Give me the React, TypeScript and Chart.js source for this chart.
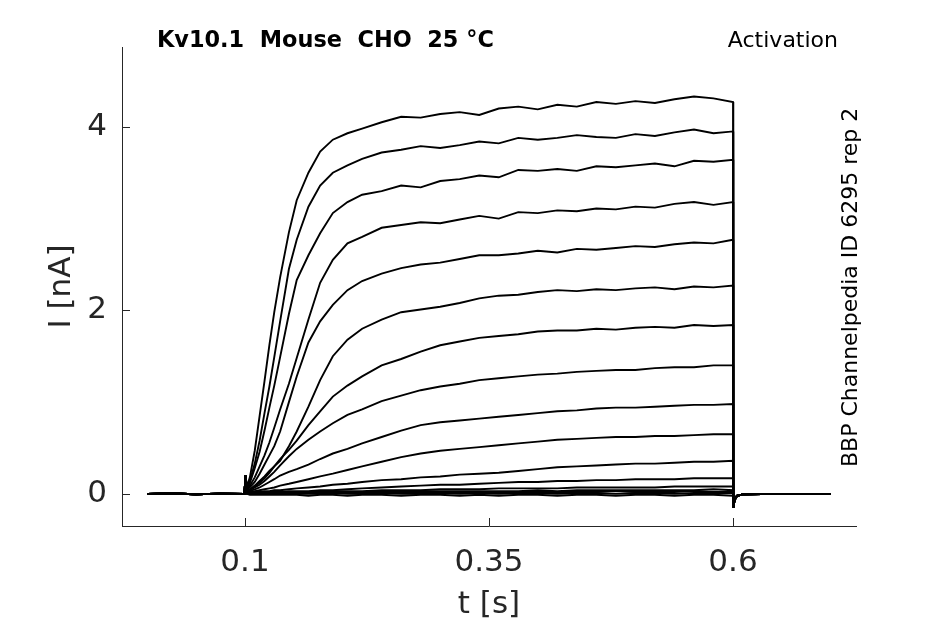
import { useEffect, useRef } from 'react'
import Chart from 'chart.js/auto'

// time axis (s) and current (nA)
const xMin = -0.026
const xMax = 0.726
const yMin = -0.35
const yMax = 4.87
const xTicks = [0.1, 0.35, 0.6]
const xTickLabels = ['0.1', '0.35', '0.6']
const yTicks = [0, 2, 4]
const yTickLabels = ['0', '2', '4']

// holding period before the step
const preT = [0, 0.025, 0.05, 0.075, 0.0995]
const preI = [0, 0.004, -0.004, 0.003, 0]

// sample times during the depolarising step
const pulseT = [
  0.1, 0.1005, 0.102, 0.105, 0.11, 0.115, 0.12, 0.125, 0.13, 0.136,
  0.145, 0.153, 0.165, 0.177, 0.19, 0.205, 0.22, 0.24, 0.26, 0.28,
  0.3, 0.32, 0.34, 0.36, 0.38, 0.4, 0.42, 0.44, 0.46, 0.48,
  0.5, 0.52, 0.54, 0.56, 0.58, 0.6,
]

// after the step (tail)
const tailT = [0.6003, 0.6015, 0.604, 0.61, 0.65, 0.7]
const tailI = [-0.15, -0.07, -0.02, -0.005, 0, 0]

const trace1 = [0, 0.2, 0.08, 0.18, 0.47, 0.85, 1.23, 1.62, 1.98, 2.36, 2.85, 3.2, 3.5, 3.73, 3.86, 3.93, 3.98, 4.05, 4.11, 4.1, 4.14, 4.16, 4.13, 4.2, 4.22, 4.19, 4.24, 4.22, 4.27, 4.25, 4.28, 4.26, 4.3, 4.33, 4.31, 4.27]
const trace2 = [0, 0.2, 0.07, 0.14, 0.33, 0.58, 0.88, 1.17, 1.49, 1.88, 2.45, 2.77, 3.13, 3.36, 3.5, 3.58, 3.65, 3.72, 3.75, 3.79, 3.77, 3.8, 3.84, 3.82, 3.88, 3.86, 3.88, 3.91, 3.89, 3.88, 3.92, 3.9, 3.94, 3.97, 3.93, 3.95]
const trace3 = [0, 0.2, 0.06, 0.12, 0.28, 0.46, 0.69, 0.94, 1.18, 1.49, 1.96, 2.33, 2.6, 2.84, 3.06, 3.18, 3.26, 3.3, 3.36, 3.34, 3.41, 3.43, 3.47, 3.45, 3.53, 3.52, 3.54, 3.52, 3.57, 3.56, 3.58, 3.6, 3.57, 3.63, 3.62, 3.64]
const trace4 = [0, 0.2, 0.05, 0.09, 0.18, 0.3, 0.42, 0.56, 0.72, 0.92, 1.2, 1.48, 1.9, 2.3, 2.55, 2.73, 2.8, 2.9, 2.93, 2.96, 2.95, 2.99, 3.03, 3.0, 3.07, 3.06, 3.09, 3.08, 3.11, 3.1, 3.13, 3.12, 3.16, 3.18, 3.15, 3.18]
const trace5 = [0, 0.2, 0.04, 0.07, 0.13, 0.22, 0.32, 0.42, 0.52, 0.68, 1.0, 1.28, 1.65, 1.88, 2.06, 2.22, 2.32, 2.4, 2.46, 2.5, 2.52, 2.56, 2.6, 2.6, 2.62, 2.65, 2.63, 2.67, 2.66, 2.68, 2.7, 2.69, 2.72, 2.74, 2.73, 2.77]
const trace6 = [0, 0.2, 0.03, 0.05, 0.09, 0.14, 0.19, 0.25, 0.3, 0.36, 0.52, 0.68, 0.95, 1.24, 1.5, 1.68, 1.8, 1.9, 1.98, 2.01, 2.04, 2.08, 2.13, 2.16, 2.17, 2.2, 2.22, 2.21, 2.23, 2.22, 2.24, 2.25, 2.23, 2.26, 2.25, 2.27]
const trace7 = [0, 0.2, 0.03, 0.04, 0.08, 0.12, 0.17, 0.23, 0.3, 0.38, 0.48, 0.58, 0.75, 0.9, 1.06, 1.18, 1.28, 1.4, 1.47, 1.55, 1.62, 1.66, 1.7, 1.72, 1.74, 1.77, 1.78, 1.78, 1.8, 1.79, 1.81, 1.82, 1.81, 1.84, 1.83, 1.84]
const trace8 = [0, 0.2, 0.03, 0.04, 0.07, 0.1, 0.14, 0.19, 0.24, 0.31, 0.41, 0.49, 0.59, 0.68, 0.77, 0.86, 0.92, 1.01, 1.07, 1.13, 1.17, 1.2, 1.24, 1.26, 1.28, 1.3, 1.31, 1.33, 1.34, 1.35, 1.35, 1.37, 1.38, 1.38, 1.4, 1.4]
const trace9 = [0, 0.2, 0.02, 0.03, 0.05, 0.07, 0.1, 0.13, 0.16, 0.2, 0.24, 0.27, 0.32, 0.38, 0.44, 0.49, 0.55, 0.62, 0.69, 0.75, 0.78, 0.8, 0.82, 0.84, 0.86, 0.88, 0.9, 0.91, 0.93, 0.94, 0.94, 0.95, 0.96, 0.97, 0.97, 0.98]
const trace10 = [0, 0.2, 0.02, 0.02, 0.03, 0.04, 0.05, 0.06, 0.07, 0.09, 0.11, 0.13, 0.16, 0.19, 0.22, 0.26, 0.3, 0.35, 0.4, 0.44, 0.47, 0.49, 0.51, 0.53, 0.55, 0.57, 0.59, 0.6, 0.61, 0.62, 0.62, 0.63, 0.63, 0.64, 0.65, 0.65]
const trace11 = [0, 0.2, 0.01, 0.01, 0.02, 0.02, 0.03, 0.03, 0.04, 0.04, 0.05, 0.06, 0.07, 0.08, 0.1, 0.11, 0.13, 0.15, 0.16, 0.18, 0.19, 0.21, 0.22, 0.23, 0.25, 0.27, 0.29, 0.3, 0.31, 0.32, 0.33, 0.33, 0.34, 0.35, 0.35, 0.36]
const trace12 = [0, 0.2, 0.01, 0.01, 0.01, 0.01, 0.02, 0.02, 0.02, 0.02, 0.03, 0.03, 0.03, 0.04, 0.04, 0.05, 0.06, 0.07, 0.08, 0.09, 0.1, 0.1, 0.11, 0.12, 0.13, 0.13, 0.14, 0.14, 0.15, 0.15, 0.16, 0.16, 0.16, 0.17, 0.17, 0.17]
const trace13 = [0, 0.2, 0.01, 0.01, 0.01, 0.01, 0.01, 0.01, 0.01, 0.02, 0.02, 0.02, 0.02, 0.03, 0.03, 0.03, 0.03, 0.04, 0.04, 0.04, 0.05, 0.05, 0.05, 0.06, 0.06, 0.06, 0.06, 0.07, 0.07, 0.07, 0.07, 0.07, 0.08, 0.08, 0.08, 0.08]
const trace14 = [0, 0.2, 0.01, 0, 0, 0.01, 0.01, 0.01, 0.01, 0.01, 0.01, 0.01, 0.02, 0.02, 0.02, 0.02, 0.02, 0.02, 0.03, 0.03, 0.03, 0.03, 0.03, 0.03, 0.03, 0.04, 0.03, 0.04, 0.04, 0.04, 0.04, 0.04, 0.04, 0.04, 0.05, 0.04]
const trace15 = [0, 0.2, 0, 0, 0, 0, 0, 0.01, 0, 0.01, 0.01, 0.01, 0.01, 0.01, 0.01, 0.01, 0.01, 0.01, 0.02, 0.01, 0.02, 0.02, 0.02, 0.02, 0.02, 0.02, 0.02, 0.02, 0.02, 0.03, 0.02, 0.02, 0.02, 0.03, 0.02, 0.02]
const trace16 = [0, 0.2, 0, 0, 0, 0, 0, 0, 0, 0, 0, 0, 0, 0, 0.01, 0, 0, 0.01, 0, 0, 0.01, 0, 0.01, 0, 0.01, 0.01, 0, 0.01, 0.01, 0, 0.01, 0.01, 0, 0.01, 0.01, 0.01]
const trace17 = [0, 0.2, 0, -0.01, -0.01, -0.01, -0.01, -0.01, -0.01, -0.01, -0.01, -0.01, -0.02, -0.01, -0.01, -0.02, -0.01, -0.01, -0.02, -0.01, -0.01, -0.02, -0.01, -0.02, -0.01, -0.01, -0.02, -0.01, -0.01, -0.02, -0.01, -0.01, -0.02, -0.01, -0.01, -0.02]

const traces = [
  trace1, trace2, trace3, trace4, trace5, trace6, trace7, trace8, trace9,
  trace10, trace11, trace12, trace13, trace14, trace15, trace16, trace17,
]

const titleText = 'Kv10.1  Mouse  CHO  25 °C'
const protocolText = 'Activation'
const sourceText = 'BBP Channelpedia ID 6295 rep 2'

const FONT = "'DejaVu Sans', sans-serif"
const AXIS_COLOR = '#262626'

function buildPoints(values: number[]) {
  return [
    ...preT.map((t, i) => ({ x: t, y: preI[i] })),
    ...pulseT.map((t, i) => ({ x: t, y: values[i] })),
    ...tailT.map((t, i) => ({ x: t, y: tailI[i] })),
  ]
}

export default function App() {
  const canvasRef = useRef<HTMLCanvasElement>(null)
  const chartRef = useRef<Chart | null>(null)

  useEffect(() => {
    if (!canvasRef.current) return
    if (chartRef.current) {
      chartRef.current.destroy()
      chartRef.current = null
    }
    Chart.defaults.font.family = FONT

    chartRef.current = new Chart(canvasRef.current, {
      type: 'line',
      data: {
        datasets: traces.map((tr, i) => ({
          label: `sweep ${i + 1}`,
          data: buildPoints(tr),
          borderColor: '#000',
          backgroundColor: 'transparent',
          borderWidth: 1.9,
          pointRadius: 0,
          tension: 0,
          fill: false,
        })),
      },
      options: {
        animation: false,
        responsive: true,
        maintainAspectRatio: false,
        layout: { padding: { top: 47, right: 89, left: 0, bottom: 0 } },
        plugins: {
          legend: { display: false },
          tooltip: { enabled: false },
        },
        scales: {
          x: {
            type: 'linear',
            min: xMin,
            max: xMax,
            grid: { display: false },
            border: { display: true, color: AXIS_COLOR, width: 1 },
            ticks: {
              color: AXIS_COLOR,
              font: { size: 31 },
              padding: 10,
              maxRotation: 0,
              autoSkip: false,
              callback: (v) => xTickLabels[xTicks.indexOf(Number(v))] ?? '',
            },
            title: {
              display: true,
              text: 't [s]',
              color: AXIS_COLOR,
              font: { size: 31 },
              padding: { top: 0, bottom: 0 },
            },
            afterBuildTicks: (s) => { s.ticks = xTicks.map(v => ({ value: v })) },
            afterFit: (s) => { s.height = 98 },
          },
          y: {
            type: 'linear',
            min: yMin,
            max: yMax,
            grid: { display: false },
            border: { display: true, color: AXIS_COLOR, width: 1 },
            ticks: {
              color: AXIS_COLOR,
              font: { size: 31 },
              padding: 7,
              callback: (v) => yTickLabels[yTicks.indexOf(Number(v))] ?? '',
            },
            title: {
              display: true,
              text: 'I [nA]',
              color: AXIS_COLOR,
              font: { size: 31 },
              padding: { top: 43, bottom: 0 },
            },
            afterBuildTicks: (s) => { s.ticks = yTicks.map(v => ({ value: v })) },
            afterFit: (s) => { s.width = 122 },
          },
        },
      },
      plugins: [
        {
          id: 'inwardTicksAndNotes',
          afterDraw(chart) {
            const { ctx, chartArea, scales } = chart
            const xs = scales.x
            const ys = scales.y
            ctx.save()
            ctx.strokeStyle = AXIS_COLOR
            ctx.lineWidth = 1
            ctx.beginPath()
            yTicks.forEach(v => {
              const y = Math.round(ys.getPixelForValue(v)) + 0.5
              ctx.moveTo(chartArea.left, y)
              ctx.lineTo(chartArea.left + 8, y)
            })
            xTicks.forEach(v => {
              const x = Math.round(xs.getPixelForValue(v)) + 0.5
              ctx.moveTo(x, chartArea.bottom)
              ctx.lineTo(x, chartArea.bottom - 8)
            })
            ctx.stroke()

            ctx.fillStyle = '#000'
            ctx.textBaseline = 'alphabetic'
            ctx.font = `bold 22.4px ${FONT}`
            ctx.textAlign = 'left'
            ctx.fillText(titleText, chartArea.left + 35, chartArea.top)
            ctx.font = `22px ${FONT}`
            ctx.textAlign = 'right'
            ctx.fillText(protocolText, chartArea.right - 18, chartArea.top)

            ctx.translate(chartArea.right + 1, chartArea.bottom - 59)
            ctx.rotate(-Math.PI / 2)
            ctx.textAlign = 'left'
            ctx.fillText(sourceText, 0, 0)
            ctx.restore()
          },
        },
      ],
    })

    return () => {
      chartRef.current?.destroy()
      chartRef.current = null
    }
  }, [])

  return (
    <div style={{ position: 'fixed', left: 0, top: 0, width: 945, height: 624, background: '#fff' }}>
      <canvas ref={canvasRef} />
    </div>
  )
}
